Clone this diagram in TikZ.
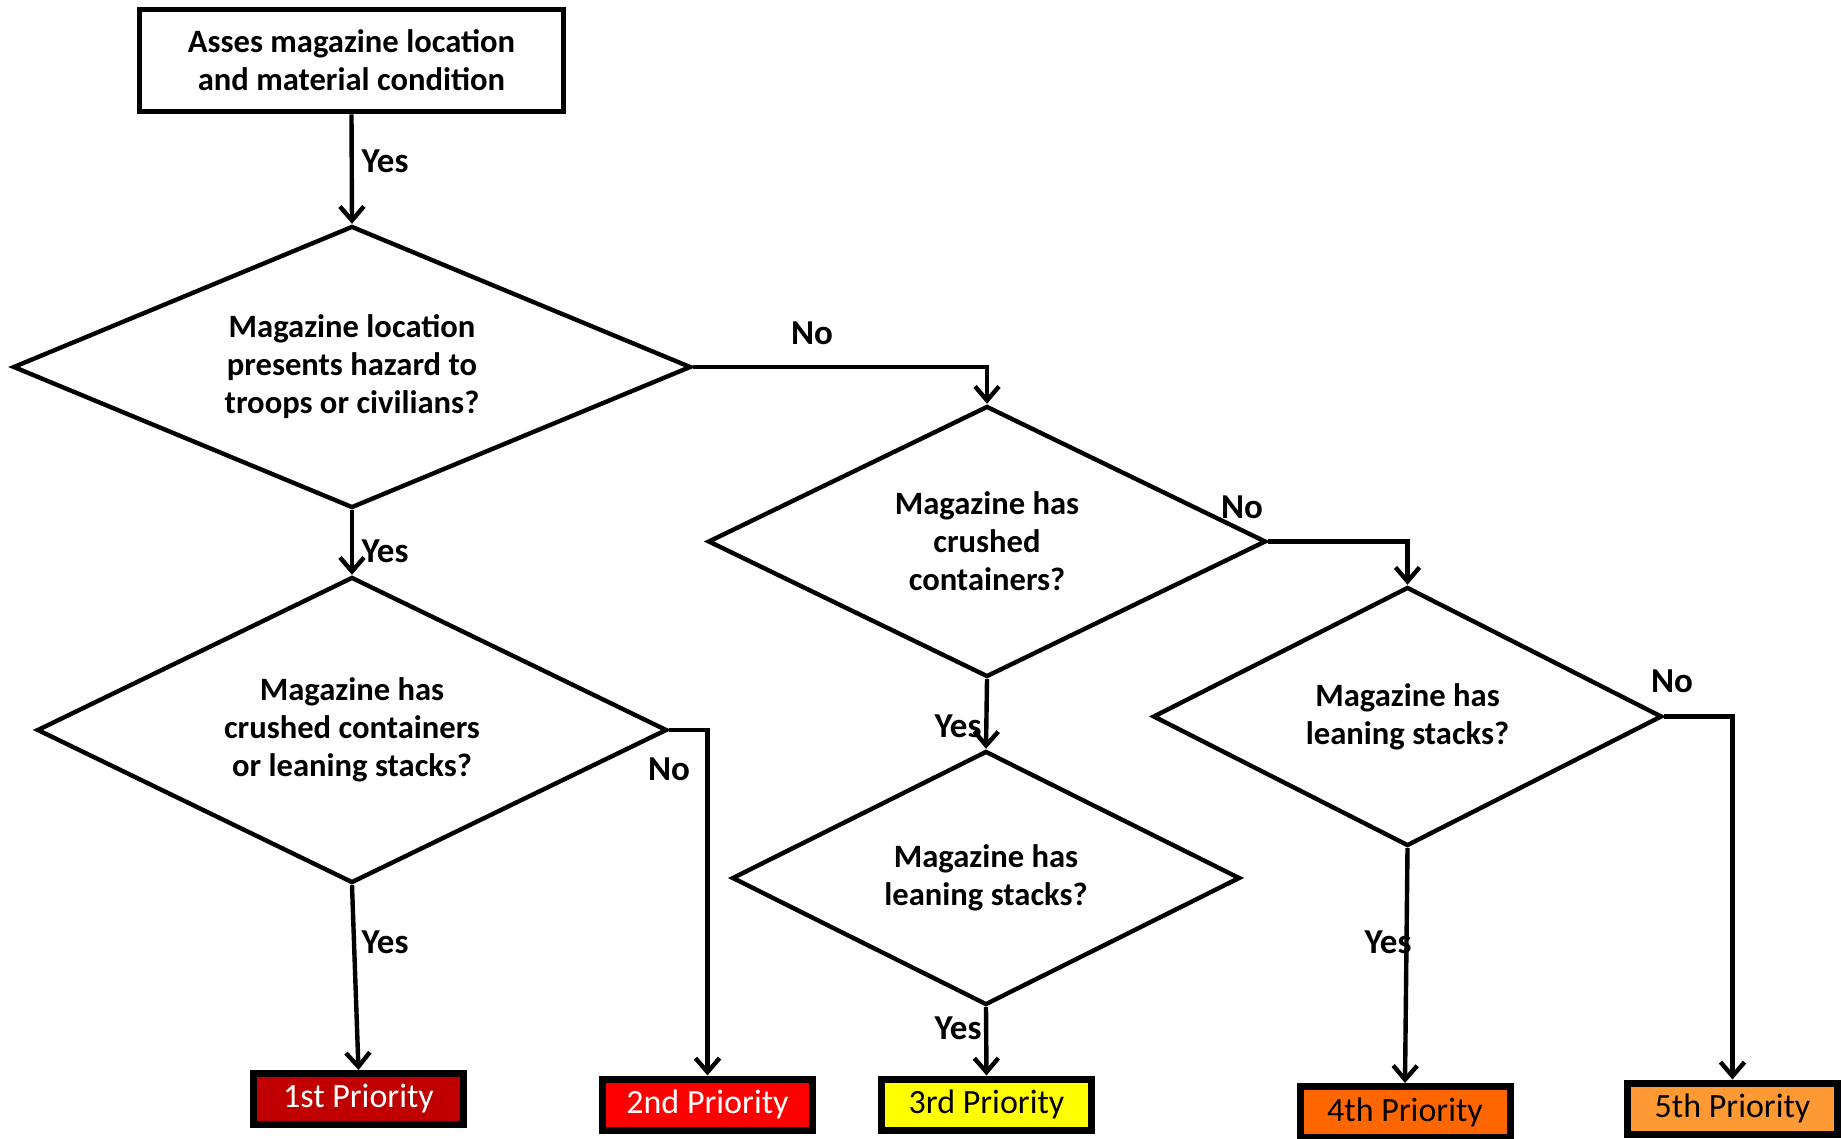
\documentclass[tikz,border=0pt]{standalone}
\usepackage{fontspec}
\setmainfont{Carlito}
\usetikzlibrary{shapes.geometric,arrows.meta}
\definecolor{p1}{HTML}{C00000}
\definecolor{p2}{HTML}{FF0000}
\definecolor{p3}{HTML}{FFFF00}
\definecolor{p4}{HTML}{FF6600}
\definecolor{p5}{HTML}{FF9933}
\begin{document}
\begin{tikzpicture}[x=0.5pt,y=-0.5pt,
  dtext/.style={font=\fontsize{16.3pt}{19pt}\selectfont\bfseries,align=center},
  startbox/.style={draw,line width=2.8pt,rectangle,inner sep=0pt,dtext},
  decision/.style={draw,line width=2.2pt,shape=diamond,inner sep=0pt,dtext},
  prio/.style={draw,line width=3.5pt,rectangle,inner sep=0pt,minimum width=105pt,minimum height=25.5pt,font=\fontsize{17pt}{19pt}\selectfont},
  lab/.style={font=\fontsize{17.5pt}{20pt}\selectfont\bfseries,inner sep=0pt},
  conn/.style={line width=2.2pt,-{Straight Barb[length=7pt,width=12pt]}}]
\useasboundingbox (0,0) rectangle (1841,1139);

\node[startbox,minimum width=212pt,minimum height=51pt] (start) at (351.5,60.5) {Asses magazine location\\and material condition};

\node[decision,aspect=2.4,minimum width=339pt,minimum height=141pt] (d1) at (352,367) {Magazine location\\presents hazard to\\troops or civilians?};
\node[decision,aspect=2.06,minimum width=315pt,minimum height=153pt] (d2) at (352,730) {Magazine has\\crushed containers\\or leaning stacks?};
\node[decision,aspect=2.06,minimum width=279pt,minimum height=135.5pt] (d3) at (987,541.5) {Magazine has\\crushed\\containers?};
\node[decision,aspect=2.0,minimum width=254pt,minimum height=127pt] (d4) at (986,878) {Magazine has\\leaning stacks?};
\node[decision,aspect=1.965,minimum width=254.5pt,minimum height=129.5pt] (d5) at (1407.5,716.5) {Magazine has\\leaning stacks?};

\node[prio,fill=p1,text=white] (b1) at (358.5,1099) {1st Priority};
\node[prio,fill=p2,text=white] (b2) at (707.5,1104.5) {2nd Priority};
\node[prio,fill=p3] (b3) at (986.5,1104.5) {3rd Priority};
\node[prio,fill=p4] (b4) at (1405,1112) {4th Priority};
\node[prio,fill=p5] (b5) at (1732.5,1108.5) {5th Priority};

\draw[conn] (start.south) -- (d1.north);
\draw[conn] (d1.east) -| (d3.north);
\draw[conn] (d1.south) -- (d2.north);
\draw[conn] (d2.east) -| (b2.north);
\draw[conn] (d2.south) -- (b1.north);
\draw[conn] (d3.east) -| (d5.north);
\draw[conn] (d3.south) -- (d4.north);
\draw[conn] (d4.south) -- (b3.north);
\draw[conn] (d5.south) -- (b4.north);
\draw[conn] (d5.east) -| (b5.north);

\node[lab] (l1) at (385,161) {Yes};
\node[lab] (l2) at (812,333) {No};
\node[lab] (l3) at (385,551) {Yes};
\node[lab] (l4) at (669,769) {No};
\node[lab] (l5) at (385,942) {Yes};
\node[lab] (l6) at (1242,507) {No};
\node[lab] (l7) at (958,726) {Yes};
\node[lab] (l8) at (958,1028) {Yes};
\node[lab] (l9) at (1388,942) {Yes};
\node[lab] (l10) at (1672,681) {No};
\end{tikzpicture}
\end{document}
